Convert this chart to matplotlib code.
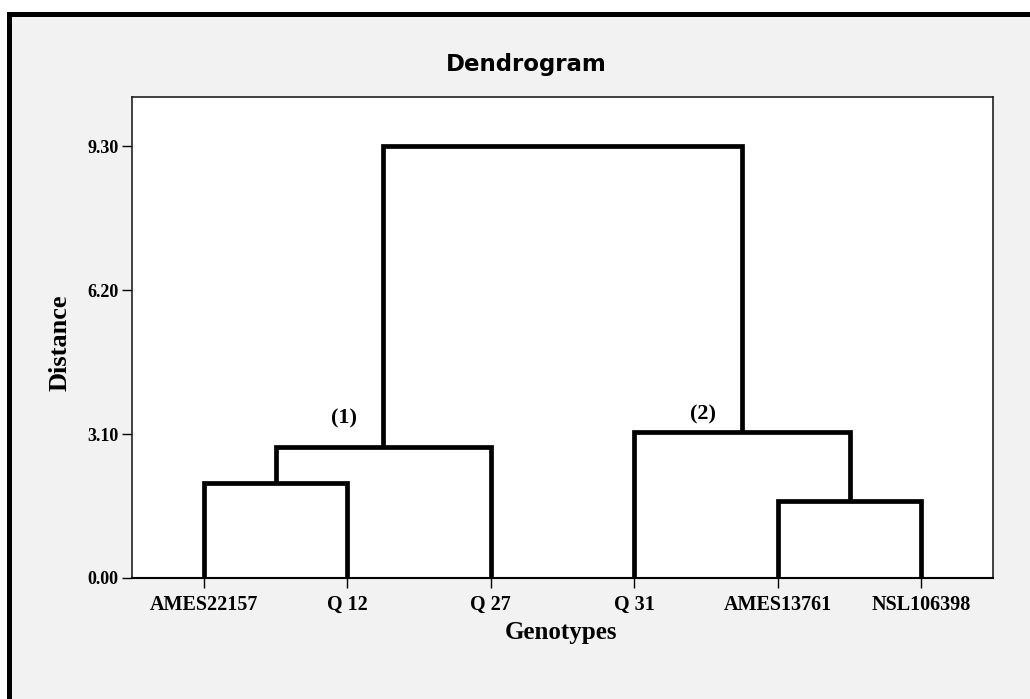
import matplotlib
matplotlib.use("Agg")
import matplotlib.pyplot as plt
from matplotlib.patches import Rectangle

# ---- data ----
leaves = ["AMES22157", "Q 12", "Q 27", "Q 31", "AMES13761", "NSL106398"]
# linkage (scipy style): new cluster ids start at len(leaves)
merge_a = [0, 6, 4, 3, 7]
merge_b = [1, 2, 5, 8, 9]
merge_h = [2.05, 2.82, 1.66, 3.14, 9.30]
ytick_vals = [0.00, 3.10, 6.20, 9.30]
ytick_labels = ["0.00", "3.10", "6.20", "9.30"]
group_labels = ["(1)", "(2)"]
group_x = [1.98, 4.48]
group_y = [3.44, 3.53]

W, H = 1030, 699
fig = plt.figure(figsize=(W / 100, H / 100), dpi=100, facecolor="white")

# outer panel: grey fill with heavy black top/left border
fig.patches.append(Rectangle((8.5 / W, -0.05), 1.2, 1 - 13.5 / H + 0.05,
                             transform=fig.transFigure, facecolor="#f2f2f2",
                             edgecolor="black", linewidth=3.6, zorder=-5))

ax = fig.add_axes([132 / W, 1 - 578 / H, (993 - 132) / W, (578 - 97) / H])
ax.set_zorder(2)
ax.set_facecolor("white")

# dendrogram geometry from linkage
n = len(leaves)
xpos = {i: i + 1 for i in range(n)}
ypos = {i: 0.0 for i in range(n)}
for k, (a, b, h) in enumerate(zip(merge_a, merge_b, merge_h)):
    xa, xb = xpos[a], xpos[b]
    ya, yb = ypos[a], ypos[b]
    ax.plot([xa, xa, xb, xb], [ya, h, h, yb], color="black", linewidth=3.4,
            solid_joinstyle="miter", solid_capstyle="butt", zorder=3)
    xpos[n + k] = (xa + xb) / 2
    ypos[n + k] = h

for t, gx, gy in zip(group_labels, group_x, group_y):
    ax.text(gx, gy, t, ha="center", va="center", fontsize=16,
            fontfamily="Liberation Serif", fontweight="bold")

ax.set_xlim(0.5, 6.5)
ax.set_ylim(0, 10.36)
ax.set_xticks(range(1, n + 1))
ax.set_xticklabels(leaves, fontfamily="Liberation Serif", fontweight="bold",
                   fontsize=14.5)
ax.set_yticks(ytick_vals)
ax.set_yticklabels(ytick_labels, fontfamily="Liberation Serif", fontweight="bold",
                   fontsize=13)
ax.tick_params(axis="x", direction="out", length=7, width=1, pad=5)
ax.tick_params(axis="y", direction="out", length=7, width=1, pad=2.5)
for s in ax.spines.values():
    s.set_color("#222222")
    s.set_linewidth(1.2)
ax.spines["bottom"].set_color("black")
ax.spines["bottom"].set_linewidth(1.5)

fig.text(526 / W, 1 - 65 / H, "Dendrogram", ha="center", va="center",
         fontsize=16.5, fontfamily="DejaVu Sans", fontweight="bold")
fig.text(60 / W, 1 - 343 / H, "Distance", ha="center", va="center", rotation=90,
         fontsize=19, fontfamily="Liberation Serif", fontweight="bold")
fig.text(561 / W, 1 - 632 / H, "Genotypes", ha="center", va="center",
         fontsize=18, fontfamily="Liberation Serif", fontweight="bold")

fig.savefig("out.png", dpi=100, facecolor=fig.get_facecolor())
